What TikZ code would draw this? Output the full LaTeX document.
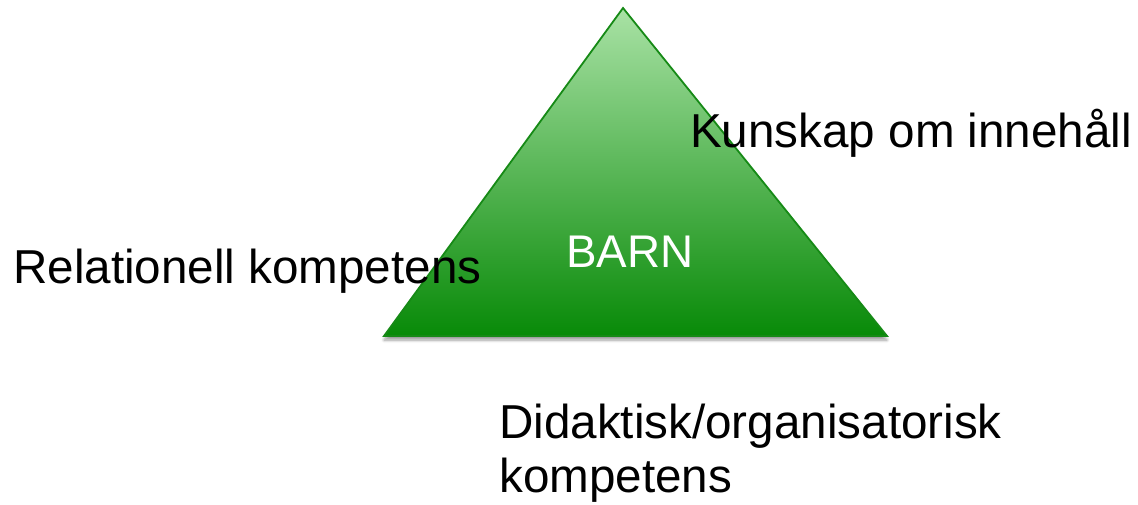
\documentclass[tikz,border=0pt]{standalone}
\usepackage{fontspec}
\setmainfont{Liberation Sans}
\usetikzlibrary{shadows.blur}
\definecolor{topgreen}{HTML}{A9E2A5}
\definecolor{botgreen}{HTML}{088A08}
\definecolor{edgegreen}{HTML}{168A16}
\tikzset{
  lbl/.style={anchor=base west, inner sep=0pt, font=\fontsize{47.6}{56}\selectfont, text=black},
  tri/.style={draw=edgegreen, line width=1.8pt, line join=miter, top color=topgreen, bottom color=botgreen,
    blur shadow={shadow xshift=0pt, shadow yshift=-4pt, shadow blur steps=6, shadow blur radius=3pt, shadow opacity=40}}
}
\begin{document}
\begin{tikzpicture}[x=1pt,y=-1pt]
\useasboundingbox (0,0) rectangle (1138,504);
\coordinate (apex) at (623,8);
\coordinate (bl) at (384,336);
\coordinate (br) at (887,336);
\path[tri] (apex) -- (br) -- (bl) -- cycle;
\node[anchor=base, inner sep=0pt, font=\fontsize{45.8}{52}\selectfont, text=white] (barn) at (630,267) {BARN};
\node[lbl] (kunskap) at (690,147) {Kunskap om innehåll};
\node[lbl] (relation) at (13,283) {Relationell kompetens};
\node[lbl] (didaktisk) at (499,438) {Didaktisk/organisatorisk};
\node[lbl] (kompetens) at (499,492) {kompetens};
\end{tikzpicture}
\end{document}
